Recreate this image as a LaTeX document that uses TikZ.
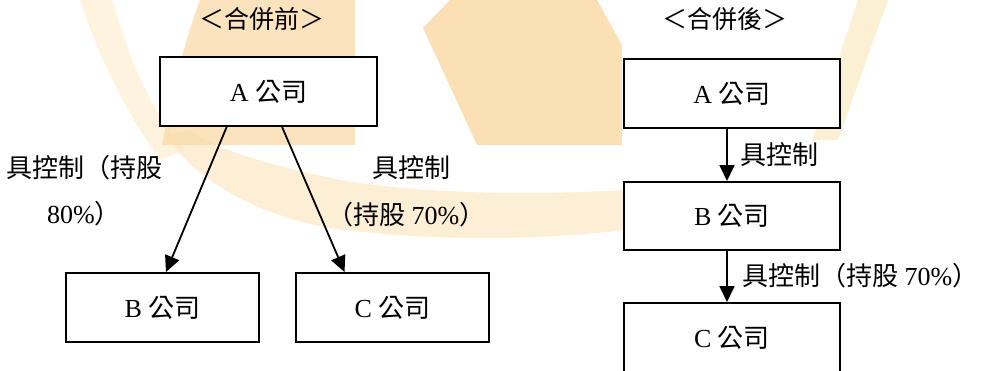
\documentclass[tikz,border=0pt]{standalone}
\usepackage{fontspec}
\setmainfont{Liberation Serif}
\newfontfamily\cj{Noto Sans CJK TC}
\usetikzlibrary{arrows.meta,calc}
\definecolor{wmA}{RGB}{250,218,168}
\definecolor{wmB}{RGB}{252,232,200}
\definecolor{wmC}{RGB}{249,222,160}
\tikzset{
  box/.style={draw=black, line width=2pt, fill=white, inner sep=0pt,
    minimum width=#1, minimum height=69pt, font=\fontsize{26}{30}\selectfont},
  box/.default=216pt,
  lbl/.style={inner sep=0pt, anchor=west, font=\fontsize{26}{30}\selectfont},
  ttl/.style={inner sep=0pt, font=\fontsize{25}{30}\selectfont},
  arr/.style={line width=1.8pt, -{Triangle[width=15pt,length=16pt]}}
}
\begin{document}
\begin{tikzpicture}[x=1pt,y=-1pt]
\useasboundingbox (0,0) rectangle (984,370);
% watermark (approximate)
\fill[wmC, opacity=0.35] (80,0) -- (112,0) .. controls (130,60) and (150,110) .. (185,150)
  -- (160,160) .. controls (125,110) and (100,60) .. cycle;
\fill[wmB, opacity=0.75] (165,135) .. controls (200,185) and (260,215) .. (330,228)
  .. controls (430,242) and (540,240) .. (625,230) -- (625,190)
  .. controls (540,195) and (430,195) .. (340,180)
  .. controls (270,165) and (215,150) .. (190,130) -- cycle;
\fill[wmA, opacity=0.75] (200,0) -- (355,0) -- (355,145) -- (162,145)
  .. controls (172,90) and (185,40) .. cycle;
\fill[wmA, opacity=0.85] (450,0) -- (597,0) -- (622,45) -- (622,145)
  -- (477,145) -- (423,28) -- cycle;
\fill[wmC, opacity=0.45] (858,0) -- (888,0) -- (838,140) -- (812,140) -- cycle;

% before merger
\node[ttl] (t1) at (262,19) {\cj ＜合併前＞};
\node[box=217pt] (A1) at (268.5,91.5) {A {\cj 公司}};
\node[box=193pt] (B1) at (162.5,307.5) {B {\cj 公司}};
\node[box=193pt] (C1) at (392.5,307.5) {C {\cj 公司}};
\draw[arr] ($(A1.south west)!0.309!(A1.south east)$) -- ($(B1.north west)!0.518!(B1.north east)$);
\draw[arr] ($(A1.south west)!0.562!(A1.south east)$) -- ($(C1.north west)!0.254!(C1.north east)$);
\node[lbl] (l1a) at (6,168) {\cj 具控制（持股};
\node[lbl] (l1b) at (47,214) {80\%{\cj ）}};
\node[lbl] (l2a) at (372,168) {\cj 具控制};
\node[lbl] (l2b) at (327,215) {{\cj （持股} 70\%{\cj ）}};

% after merger
\node[ttl] (t2) at (725,19) {\cj ＜合併後＞};
\node[box] (A2) at (732,93.5) {A {\cj 公司}};
\node[box, minimum height=68pt] (B2) at (732,216) {B {\cj 公司}};
\node[box] (C2) at (732,337.5) {C {\cj 公司}};
\draw[arr] ($(A2.south west)!0.477!(A2.south east)$) -- ($(B2.north west)!0.477!(B2.north east)$);
\draw[arr] ($(B2.south west)!0.477!(B2.south east)$) -- ($(C2.north west)!0.477!(C2.north east)$);
\node[lbl] (l3) at (740,155) {\cj 具控制};
\node[lbl] (l4) at (742,276) {{\cj 具控制（持股} 70\%{\cj ）}};
\end{tikzpicture}
\end{document}
